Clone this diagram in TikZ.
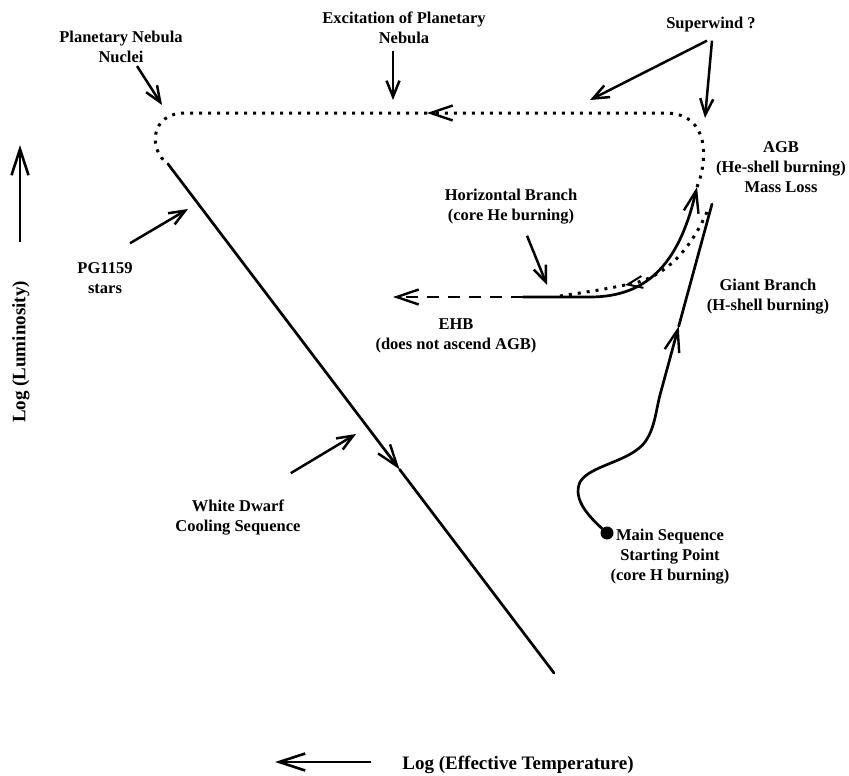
\documentclass[tikz,border=0pt]{standalone}
\usepackage{fontspec}
\setmainfont{Liberation Serif}
\usetikzlibrary{arrows.meta, positioning, calc}

\tikzset{
  lbl/.style={font=\fontsize{16.5}{20}\selectfont\bfseries, align=center, inner sep=1pt},
  axislbl/.style={font=\fontsize{19}{22}\selectfont\bfseries, inner sep=1pt},
  track/.style={line width=2.7pt, line cap=round},
  dotline/.style={line width=3pt, dash pattern=on 3pt off 6pt},
  dashline/.style={line width=2.7pt, dash pattern=on 12pt off 9pt},
  bigbarb/.style={-{Straight Barb[length=22pt,width=15pt,line width=2.4pt]}},
  smallbarb/.style={-{Straight Barb[length=15pt,width=12pt,line width=2pt]}},
  lblarrow/.style={line width=2.5pt, -{Straight Barb[length=16pt,width=13pt]}},
  axisarrow/.style={line width=2.6pt, -{Straight Barb[length=26pt,width=17pt]}}
}

\begin{document}
\begin{tikzpicture}[x=1pt, y=-1pt]
  \useasboundingbox (0,0) rectangle (849,776);

  % points of the track
  \coordinate (ms) at (607,533);
  \coordinate (rgbbend) at (660,395);
  \coordinate (rgbtip) at (712,204);
  \coordinate (rgbmid) at ($(rgbbend)!0.36!(rgbtip)$);
  \coordinate (hbstart) at (523,297);
  \coordinate (agbtip) at (697,187);
  \coordinate (retstart) at (707,212);
  \coordinate (retmid) at (625,285);
  \coordinate (hbdotend) at (560,296);
  \coordinate (ehbtip) at (393,297);
  \coordinate (pntip) at (427,113);
  \coordinate (wdtop) at (168,164);
  \coordinate (wdend) at (554,673);
  \coordinate (wdmid) at ($(wdtop)!0.6!(wdend)$);

  % giant branch
  \draw[track, bigbarb] (ms) .. controls (590,518) and (572,500) .. (580,482)
    .. controls (590,465) and (630,462) .. (645,442)
    .. controls (655,428) and (656,410) .. (rgbbend) -- (rgbmid);
  \draw[track] (rgbmid) -- (rgbtip);
  \fill (ms) circle (6.5pt);

  % horizontal branch up to the AGB
  \draw[track, bigbarb] (hbstart) -- (590,297) .. controls (650,297) and (680,260) .. (agbtip);
  \draw[dotline, smallbarb] (retstart) .. controls (690,250) and (665,278) .. (retmid);
  \draw[dotline] (retmid) .. controls (600,290) .. (hbdotend);

  % extreme horizontal branch
  \draw[dashline, bigbarb] (hbstart) -- (ehbtip);

  % post-AGB loop
  \draw[dotline, bigbarb] (agbtip) .. controls (708,160) and (710,113) .. (665,113) -- (pntip);
  \draw[dotline] (pntip) -- (185,113) .. controls (150,113) and (148,150) .. (wdtop);

  % white dwarf cooling sequence
  \draw[track, bigbarb] (wdtop) -- (wdmid);
  \draw[track] (wdmid) -- (wdend);

  % labels
  \node[lbl] (pnnlbl) at (121,47) {Planetary Nebula\\Nuclei};
  \node[lbl] (exclbl) at (404,28) {Excitation of Planetary\\Nebula};
  \node[lbl] (swlbl) at (711,25) {Superwind ?};
  \node[lbl] (agblbl) at (781,167) {AGB\\(He-shell burning)\\Mass Loss};
  \node[lbl] (hblbl) at (511,207) {Horizontal Branch\\(core He burning)};
  \node[lbl] (ehblbl) at (456,336) {EHB\\(does not ascend AGB)};
  \node[lbl] (gblbl) at (768,297) {Giant Branch\\(H-shell burning)};
  \node[lbl] (mslbl) at (670,557) {Main Sequence\\Starting Point\\(core H burning)};
  \node[lbl] (pglbl) at (105,278) {PG1159\\stars};
  \node[lbl] (wdlbl) at (238,518) {White Dwarf\\Cooling Sequence};
  \node[axislbl, rotate=90] (lumlbl) at (21,352) {Log (Luminosity)};
  \node[axislbl] (tefflbl) at (518,765) {Log (Effective Temperature)};

  % pointers
  \coordinate (pnntip) at (162,105);
  \coordinate (exctip) at (393,100);
  \coordinate (swtipa) at (590,100);
  \coordinate (swtipb) at (705,118);
  \coordinate (hbtip) at (547,285);
  \coordinate (pgtip) at (188,209);
  \coordinate (wdtip) at (356,434);
  \coordinate (lumtip) at (20,145);
  \coordinate (tefftip) at (275,762);

  \draw[lblarrow] ($(pnnlbl.south)+(16,2)$) -- (pnntip);
  \draw[lblarrow] ($(exclbl.south -| exctip)+(0,6)$) -- (exctip);
  \draw[lblarrow] ($(swlbl.south)+(-4,7)$) -- (swtipa);
  \draw[lblarrow] ($(swlbl.south)+(1,7)$) -- (swtipb);
  \draw[lblarrow] ($(hblbl.south)+(16,10)$) -- (hbtip);
  \draw[lblarrow] ($(pglbl.north)+(25,-18)$) -- (pgtip);
  \draw[lblarrow] ($(wdlbl.north east)+(-11,-26)$) -- (wdtip);
  \draw[axisarrow] ($(lumlbl.east)+(-1,-38)$) -- (lumtip);
  \draw[axisarrow] ($(tefflbl.west)+(-30,-3)$) -- (tefftip);
\end{tikzpicture}
\end{document}
